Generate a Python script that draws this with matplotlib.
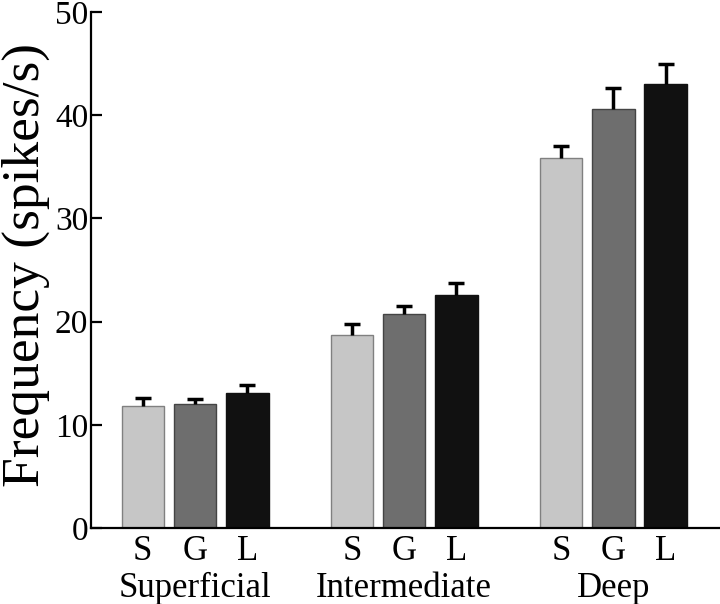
import numpy as np
import matplotlib
matplotlib.use("Agg")
import matplotlib.pyplot as plt
import matplotlib.transforms as mtransforms

plt.rcParams['font.family'] = ['Liberation Serif', 'DejaVu Serif']

groups = ["Superficial", "Intermediate", "Deep"]
conditions = ["S", "G", "L"]
means = {
    "S": [11.8, 18.7, 35.9],
    "G": [12.0, 20.7, 40.6],
    "L": [13.05, 22.6, 43.0],
}
errors = {
    "S": [0.75, 1.05, 1.15],
    "G": [0.5, 0.85, 2.0],
    "L": [0.8, 1.15, 2.0],
}
colors = {"S": "#c6c6c6", "G": "#6e6e6e", "L": "#111111"}
edges = {"S": "#808080", "G": "#444444", "L": "#111111"}

fig = plt.figure(figsize=(7.2, 6.04), dpi=100)
ax = fig.add_axes([91 / 720, 76 / 604, 629 / 720, 516 / 604])

group_pos = np.arange(len(groups)) * 4
tick_pos, tick_lab = [], []
for j, c in enumerate(conditions):
    x = group_pos + j
    ax.bar(x, means[c], width=0.81, color=colors[c], edgecolor=edges[c],
           linewidth=1.0, zorder=2)
    eb = ax.errorbar(x, means[c], yerr=[np.zeros(3), errors[c]], fmt='none',
                     ecolor='black', elinewidth=2.5, capsize=5.5,
                     capthick=2.5, zorder=3)
    # only the upper cap is drawn
    eb[1][0].set_visible(False)
    tick_pos.extend(x)
    tick_lab.extend([c] * 3)

ax.set_xlim(-0.99, 11.04)
ax.set_ylim(0, 50)
ax.set_yticks([0, 10, 20, 30, 40, 50])
ax.set_xticks(tick_pos)
ax.set_xticklabels(tick_lab)

for s in ["top", "right"]:
    ax.spines[s].set_visible(False)
for s in ["left", "bottom"]:
    ax.spines[s].set_linewidth(1.6)

ax.tick_params(axis='y', direction='in', length=8, width=1.6,
               labelsize=24, pad=2)
ax.tick_params(axis='x', length=0, labelsize=25, pad=5)

trans = mtransforms.blended_transform_factory(ax.transData, ax.transAxes)
for gx, g in zip(group_pos + 1, groups):
    ax.text(gx, -0.134, g, transform=trans, ha='center', va='baseline',
            fontsize=25)

fig.text(0.036, 0.561, "Frequency (spikes/s)", rotation=90,
         ha='center', va='center', fontsize=38.5)

fig.savefig("out.png", dpi=100)
